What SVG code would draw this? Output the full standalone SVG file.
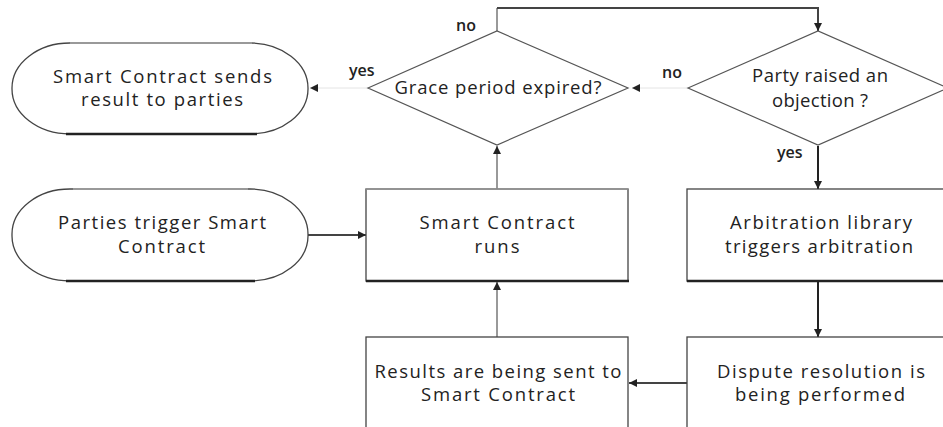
<svg xmlns="http://www.w3.org/2000/svg" width="943" height="427" viewBox="0 0 943 427">
<defs>
<marker id="ah" viewBox="0 0 10 10" refX="10" refY="5" markerWidth="8" markerHeight="8" markerUnits="userSpaceOnUse" orient="auto">
<path d="M0,0 L10,5 L0,10 z" fill="#222"/>
</marker>
</defs>
<style>
.node{fill:#fff;stroke:#444;stroke-width:1.3}
.dia{fill:#fff;stroke:#555;stroke-width:1.2}
.base{stroke:#222;stroke-width:2.6;fill:none}
.topg{stroke:#999;stroke-width:2.2;fill:none}
.t{font-family:"Open Sans","Liberation Sans",sans-serif;font-size:18.5px;fill:#222;text-anchor:middle}
.lbl{font-family:"Open Sans","Liberation Sans",sans-serif;font-size:16px;font-weight:600;fill:#222}
.c{fill:none;stroke-width:2;marker-end:url(#ah)}
.dark{stroke:#222}
.mid{stroke:#444}
.gray{stroke:#999}
.faint{stroke:#e4e4e4;stroke-width:1}
</style>
<g id="connectors">
<path class="c faint" d="M368,88 L310,88"/>
<path class="c faint" d="M688,88 L632,88"/>
<path class="c gray" d="M497,31 L497,8" style="marker-end:none"/>
<path class="c mid" d="M497,8 L818,8 L818,31"/>
<path class="c gray" d="M497,189 L497,146"/>
<path class="c gray" d="M497,337 L497,282"/>
<path class="c dark" d="M818,146 L818,189"/>
<path class="c dark" d="M818,282 L818,337"/>
<path class="c mid" d="M687,383 L629,383"/>
<path class="c mid" d="M308,235 L366,235"/>
<text class="lbl" x="456" y="31">no</text>
<text class="lbl" x="349" y="76">yes</text>
<text class="lbl" x="662" y="78">no</text>
<text class="lbl" x="777" y="158">yes</text>
</g>
<g id="sends">
<rect class="node" x="12" y="43" width="296" height="91" rx="58" ry="45"/>
<path class="topg" d="M70,43 L252,43"/>
<path class="base" d="M66,134 L257,134"/>
<text class="t" x="162.5" y="83" textLength="219" lengthAdjust="spacing">Smart Contract sends</text>
<text class="t" x="162" y="106" textLength="162" lengthAdjust="spacing">result to parties</text>
</g>
<g id="trigger">
<rect class="node" x="12" y="189" width="296" height="92" rx="58" ry="45"/>
<path class="topg" d="M73,189 L248,189"/>
<path class="base" d="M66,281 L255,281"/>
<text class="t" x="162" y="229" textLength="208" lengthAdjust="spacing">Parties trigger Smart</text>
<text class="t" x="161.5" y="253" textLength="87" lengthAdjust="spacing">Contract</text>
</g>
<g id="grace">
<polygon class="dia" points="368,88 497,31 628,88 497,145"/>
<text class="t" x="498" y="94" textLength="207" lengthAdjust="spacing">Grace period expired?</text>
</g>
<g id="objection">
<polygon class="dia" points="688,88 818,31 948,88 818,145"/>
<text class="t" x="820" y="82" textLength="136" lengthAdjust="spacing">Party raised an</text>
<text class="t" x="820" y="107" textLength="96" lengthAdjust="spacing">objection ?</text>
</g>
<g id="runs">
<rect class="node" x="366" y="189" width="262" height="92"/>
<path class="topg" d="M366,189 L628,189" style="stroke-width:1.6"/>
<path class="base" d="M366,281 L629,281"/>
<text class="t" x="497" y="229" textLength="155" lengthAdjust="spacing">Smart Contract</text>
<text class="t" x="497" y="253" textLength="45" lengthAdjust="spacing">runs</text>
</g>
<g id="arbitration">
<rect class="node" x="687" y="189" width="262" height="92"/>
<path class="base" d="M687,281 L943,281"/>
<text class="t" x="821" y="229" textLength="182" lengthAdjust="spacing">Arbitration library</text>
<text class="t" x="819" y="253" textLength="188" lengthAdjust="spacing">triggers arbitration</text>
</g>
<g id="results">
<rect class="node" x="366" y="337" width="262" height="96"/>
<text class="t" x="498" y="378" textLength="247" lengthAdjust="spacing">Results are being sent to</text>
<text class="t" x="498" y="401" textLength="154" lengthAdjust="spacing">Smart Contract</text>
</g>
<g id="dispute">
<rect class="node" x="687" y="337" width="262" height="96"/>
<text class="t" x="821" y="378" textLength="208" lengthAdjust="spacing">Dispute resolution is</text>
<text class="t" x="820" y="401" textLength="170" lengthAdjust="spacing">being performed</text>
</g>
</svg>
